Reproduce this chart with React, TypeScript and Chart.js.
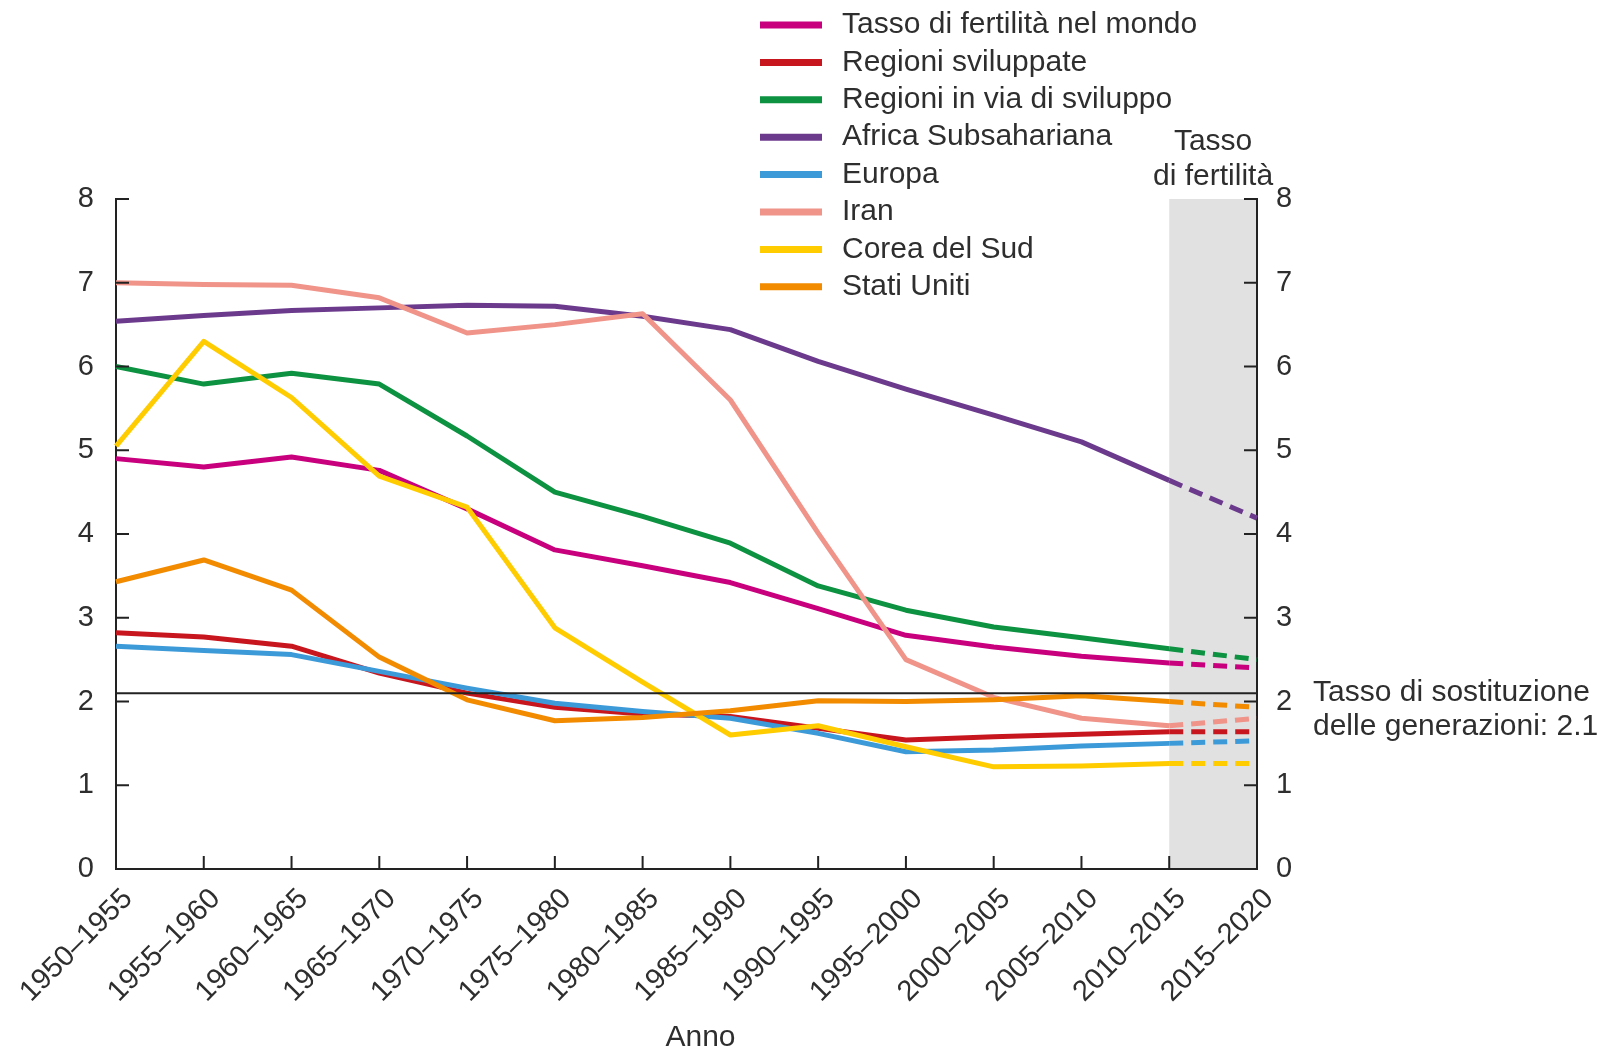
import React, { useEffect, useRef } from 'react';
import { Chart, registerables } from 'chart.js';

Chart.register(...registerables);

const periods = [
  '1950–1955', '1955–1960', '1960–1965', '1965–1970', '1970–1975', '1975–1980', '1980–1985',
  '1985–1990', '1990–1995', '1995–2000', '2000–2005', '2005–2010', '2010–2015', '2015–2020',
];

const world = [4.90, 4.80, 4.92, 4.76, 4.30, 3.81, 3.62, 3.42, 3.11, 2.79, 2.65, 2.54, 2.46, 2.40];
const developed = [2.82, 2.77, 2.66, 2.34, 2.10, 1.93, 1.85, 1.82, 1.68, 1.54, 1.58, 1.61, 1.64, 1.64];
const developing = [6.00, 5.79, 5.92, 5.79, 5.17, 4.50, 4.21, 3.89, 3.38, 3.09, 2.89, 2.76, 2.63, 2.50];
const subSaharan = [6.54, 6.61, 6.67, 6.70, 6.73, 6.72, 6.60, 6.44, 6.06, 5.73, 5.42, 5.10, 4.64, 4.19];
const europe = [2.66, 2.61, 2.56, 2.36, 2.16, 1.98, 1.88, 1.80, 1.62, 1.40, 1.42, 1.47, 1.50, 1.53];
const iran = [7.00, 6.98, 6.97, 6.82, 6.40, 6.50, 6.63, 5.60, 4.01, 2.50, 2.05, 1.80, 1.71, 1.80];
const southKorea = [5.05, 6.30, 5.63, 4.69, 4.32, 2.88, 2.23, 1.60, 1.71, 1.46, 1.22, 1.23, 1.26, 1.26];
const unitedStates = [3.43, 3.69, 3.33, 2.53, 2.02, 1.77, 1.81, 1.89, 2.01, 2.00, 2.02, 2.07, 2.00, 1.93];

const seriesNames = [
  'Tasso di fertilità nel mondo',
  'Regioni sviluppate',
  'Regioni in via di sviluppo',
  'Africa Subsahariana',
  'Europa',
  'Iran',
  'Corea del Sud',
  'Stati Uniti',
];
const seriesValues = [world, developed, developing, subSaharan, europe, iran, southKorea, unitedStates];
const seriesColors = ['#c8007e', '#c8161e', '#0d9242', '#6c3a8d', '#3d9ad8', '#f0948a', '#ffcc00', '#f28b00'];

const projectionStartIndex = 12;
const replacementRate = 2.1;
const yTicks = [0, 1, 2, 3, 4, 5, 6, 7, 8];
const rightTitle = ['Tasso', 'di fertilità'];
const replacementText = ['Tasso di sostituzione', 'delle generazioni: 2.1'];
const xTitle = 'Anno';

const W = 1598;
const H = 1051;
const FONT = '"Liberation Sans", Arial, Helvetica, sans-serif';
const TEXT = '#2e2e2e';
const AXIS = '#222222';
const FS = 30;
const TICK_FS = 29;

const overlay = {
  id: 'overlay',
  beforeDraw(chart: any) {
    const { ctx, chartArea, scales } = chart;
    const xs = scales.x.getPixelForValue(projectionStartIndex);
    ctx.save();
    ctx.fillStyle = '#e1e1e1';
    ctx.fillRect(xs, chartArea.top, chartArea.right - xs, chartArea.bottom - chartArea.top);
    ctx.restore();
  },
  afterDatasetsDraw(chart: any) {
    const { ctx, chartArea, scales } = chart;
    const { left, right, bottom } = chartArea;
    ctx.save();
    const yr = scales.y.getPixelForValue(replacementRate);
    ctx.strokeStyle = AXIS;
    ctx.lineWidth = 2;
    ctx.beginPath();
    ctx.moveTo(left, yr);
    ctx.lineTo(right, yr);
    ctx.stroke();
    const tl = 13;
    ctx.beginPath();
    yTicks.forEach((v) => {
      const py = scales.y.getPixelForValue(v);
      ctx.moveTo(left, py);
      ctx.lineTo(left + tl, py);
      const py2 = scales.y2.getPixelForValue(v);
      ctx.moveTo(right, py2);
      ctx.lineTo(right - tl, py2);
    });
    periods.forEach((_, i) => {
      const px = scales.x.getPixelForValue(i);
      ctx.moveTo(px, bottom);
      ctx.lineTo(px, bottom - tl);
    });
    ctx.stroke();
    ctx.restore();
  },
  afterDraw(chart: any) {
    const { ctx, chartArea, scales } = chart;
    ctx.save();
    ctx.font = `${FS}px ${FONT}`;
    ctx.fillStyle = TEXT;
    ctx.textBaseline = 'middle';
    const lx0 = 760;
    const lx1 = 822;
    const tx = 842;
    const y0 = 25;
    const dy = 37.4;
    chart.data.datasets.forEach((ds: any, i: number) => {
      const yy = y0 + i * dy;
      ctx.strokeStyle = ds.borderColor;
      ctx.lineWidth = 7;
      ctx.beginPath();
      ctx.moveTo(lx0, yy);
      ctx.lineTo(lx1, yy);
      ctx.stroke();
      ctx.fillStyle = TEXT;
      ctx.textAlign = 'left';
      ctx.fillText(ds.label, tx, yy);
    });
    const xs = scales.x.getPixelForValue(projectionStartIndex);
    const cx = (xs + chartArea.right) / 2;
    ctx.textAlign = 'center';
    ctx.fillText(rightTitle[0], cx, chartArea.top - 57);
    ctx.fillText(rightTitle[1], cx, chartArea.top - 22);
    const yr = scales.y.getPixelForValue(replacementRate);
    ctx.textAlign = 'left';
    ctx.fillText(replacementText[0], chartArea.right + 56, yr);
    ctx.fillText(replacementText[1], chartArea.right + 56, yr + 34);
    ctx.textAlign = 'center';
    ctx.fillText(xTitle, (chartArea.left + chartArea.right) / 2 + 14, 1038);
    ctx.restore();
  },
};

export default function App() {
  const ref = useRef<HTMLCanvasElement | null>(null);
  useEffect(() => {
    document.body.style.margin = '0';
    const canvas = ref.current;
    if (!canvas) return;
    const tickFont = { family: FONT, size: TICK_FS };
    const chart = new Chart(canvas, {
      type: 'line',
      data: {
        labels: periods,
        datasets: seriesNames.map((name, i) => ({
          label: name,
          data: seriesValues[i],
          borderColor: seriesColors[i],
          backgroundColor: seriesColors[i],
          borderWidth: 5,
          pointRadius: 0,
          pointHoverRadius: 0,
          tension: 0,
          fill: false,
          borderJoinStyle: 'round' as const,
          order: seriesNames.length - i,
          yAxisID: 'y',
          segment: {
            borderDash: (c: any) => (c.p0DataIndex >= projectionStartIndex ? [14, 8] : undefined),
          },
        })),
      },
      options: {
        animation: false,
        responsive: false,
        devicePixelRatio: 1,
        events: [],
        layout: { padding: { top: 199, left: 0, right: 0, bottom: 0 } },
        plugins: {
          legend: { display: false },
          title: { display: false },
          tooltip: { enabled: false },
        },
        scales: {
          x: {
            type: 'category',
            offset: false,
            grid: { display: false, drawTicks: false },
            border: { display: true, color: AXIS, width: 2 },
            ticks: {
              autoSkip: false,
              maxRotation: 45,
              minRotation: 45,
              padding: 13,
              labelOffset: 12,
              font: tickFont,
              color: TEXT,
            },
            afterFit: (s: any) => {
              s.height = 182;
              s.paddingLeft = 0;
              s.paddingRight = 0;
            },
          },
          y: {
            type: 'linear',
            position: 'left',
            min: 0,
            max: 8,
            grid: { display: false, drawTicks: false },
            border: { display: true, color: AXIS, width: 2 },
            ticks: { stepSize: 1, padding: 22, font: tickFont, color: TEXT },
            afterFit: (s: any) => {
              s.width = 116;
            },
          },
          y2: {
            type: 'linear',
            position: 'right',
            min: 0,
            max: 8,
            grid: { display: false, drawTicks: false },
            border: { display: true, color: AXIS, width: 2 },
            ticks: { stepSize: 1, padding: 19, font: tickFont, color: TEXT },
            afterFit: (s: any) => {
              s.width = 341;
            },
          },
        },
      },
      plugins: [overlay],
    });
    return () => chart.destroy();
  }, []);
  return (
    <div style={{ position: 'absolute', left: 0, top: 0, width: W, height: H, background: '#fff' }}>
      <canvas ref={ref} width={W} height={H} style={{ display: 'block', width: W, height: H }} />
    </div>
  );
}
